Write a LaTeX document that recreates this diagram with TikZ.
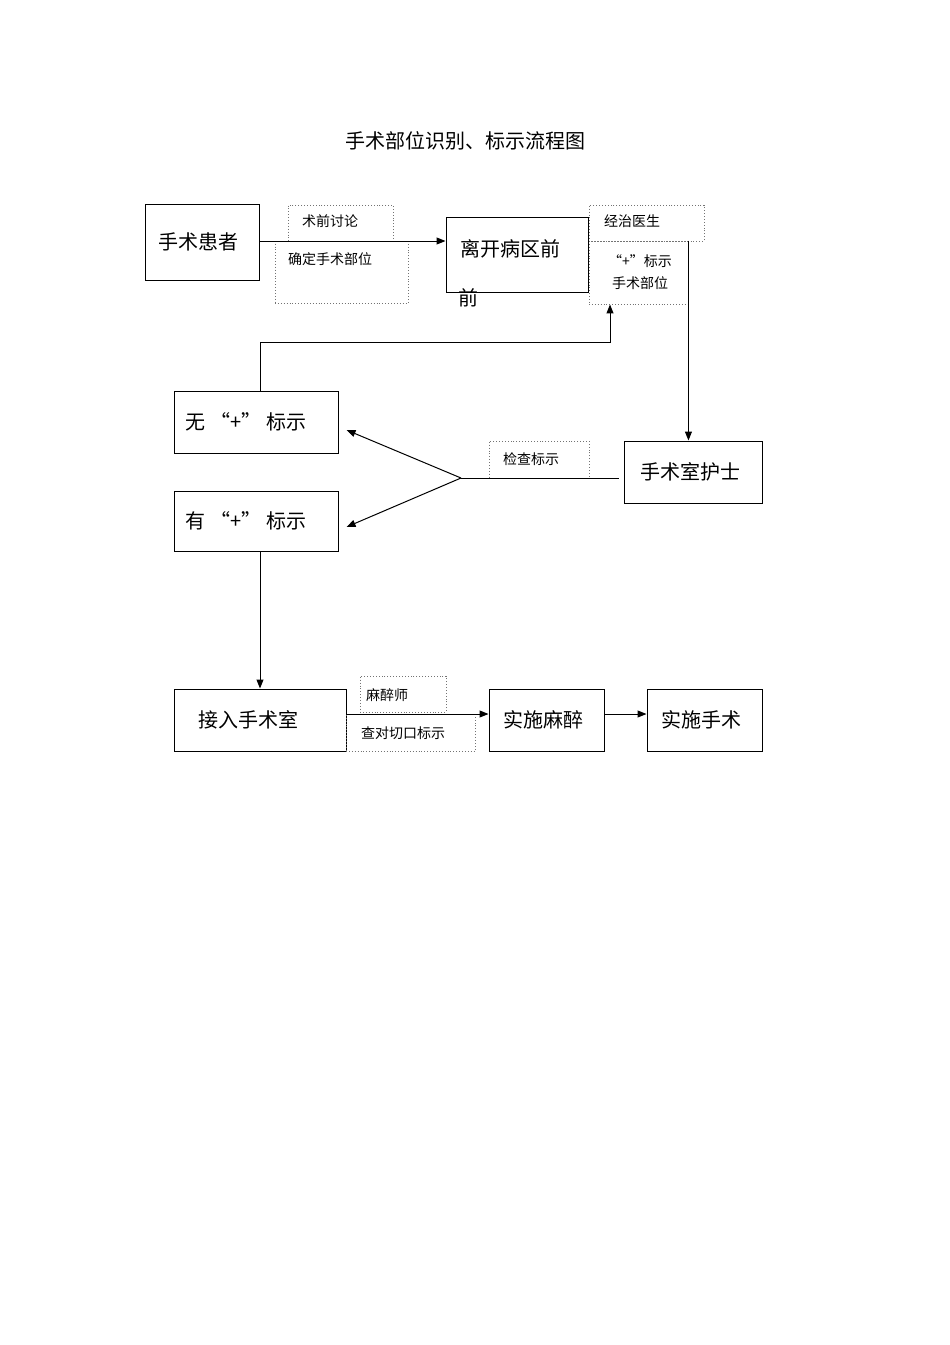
\documentclass[tikz,border=0pt]{standalone}
\usepackage{fontspec}
\setmainfont{Noto Sans CJK SC}
\usetikzlibrary{arrows.meta}
\newcommand{\padr}[1]{\hspace*{#1pt}}

\begin{document}
\begin{tikzpicture}[>={Triangle[length=9pt,width=7pt]}, x=1pt, y=-1pt,
    box/.style={draw, line width=1pt, minimum width=#1, inner sep=0pt, font=\fontsize{20}{24}\selectfont},
    note/.style={draw=black!55, dotted, line width=0.9pt, inner sep=0pt},
    notetext/.style={inner sep=0pt, font=\fontsize{14}{17}\selectfont},
    flow/.style={->, line width=1pt}]
  \useasboundingbox (0,0) rectangle (950,1345);
  \node[inner sep=0pt, font=\fontsize{20}{24}\selectfont] (title) at (465,141) {手术部位识别、标示流程图};
  % ---------------------------------------------------------------- ward
  \node[box=114pt, minimum height=76pt] (patient) at (202,242) {手术患者\padr{8}};
  \node[note, minimum width=105pt, minimum height=36pt] (talk) at (340.5,223) {};
  \node[note, minimum width=133pt, minimum height=62pt] (site) at (341.5,272) {};
  \node[notetext] (talktxt) at (330,221) {术前讨论};
  \node[notetext] (sitetxt) at (330,259) {确定手术部位};
  \node[box=142pt, minimum height=75pt] (leave) at (517,254.5) {};
  \node[inner sep=0pt, font=\fontsize{20}{24}\selectfont] (leavetxt) at (510,249) {离开病区前};
  \node[inner sep=0pt, font=\fontsize{20}{24}\selectfont] (leavemore) at (468,298) {前};
  \node[note, minimum width=115pt, minimum height=36pt] (doctor) at (646.5,223) {};
  \node[note, minimum width=99pt, minimum height=63pt] (mark) at (638.5,272.5) {};
  \node[notetext] (doctortxt) at (632,221) {经治医生};
  \node[notetext, align=center] (marktxt) at (640,272) {“+”标示\\[5pt]手术部位};
  \draw[flow] (patient.east |- 0,241) -- (leave.west |- 0,241);
  % ---------------------------------------------------------------- check in theatre
  \node[box=138pt, minimum height=62pt] (nurse) at (693,472) {手术室护士\padr{6}};
  \node[note, minimum width=100pt, minimum height=37pt] (check) at (539,459.5) {};
  \node[notetext] (checktxt) at (531,459) {检查标示};
  \node[box=164pt, minimum height=62pt] (none) at (256,422) {无 “+” 标示\padr{20}};
  \node[box=164pt, minimum height=60pt] (has) at (256,521) {有 “+” 标示\padr{20}};
  \coordinate (fork) at (461,478);
  \draw[flow] (mark.north east) -- (mark.north east |- nurse.north);
  \draw[line width=1pt] ([xshift=-5pt]nurse.west |- fork) -- (fork);
  \draw[flow] (fork) -- ([xshift=8pt,yshift=-8pt]none.east);
  \draw[flow] (fork) -- ([xshift=8pt,yshift=-6pt]has.east);
  \draw[flow] ([xshift=4pt]none.north) -- ++(0,-48) -| ([xshift=-28.5pt]mark.south);
  % ---------------------------------------------------------------- operation
  \node[box=172pt, minimum height=62pt] (enter) at (260,720) {接入手术室\padr{24}};
  \node[note, minimum width=86pt, minimum height=36pt] (anesthetist) at (403,694) {};
  \node[note, minimum width=129pt, minimum height=37pt] (incision) at (410.5,732.5) {};
  \node[notetext] (anesthetisttxt) at (387,695) {麻醉师};
  \node[notetext] (incisiontxt) at (403,733) {查对切口标示};
  \node[box=115pt, minimum height=62pt] (anes) at (546.5,720) {实施麻醉\padr{6}};
  \node[box=115pt, minimum height=62pt] (surgery) at (704.5,720) {实施手术\padr{6}};
  \draw[flow] ([xshift=4pt]has.south) -- (enter.north);
  \draw[flow] ([yshift=6pt]enter.east) -- ([yshift=6pt]anes.west);
  \draw[flow] ([yshift=6pt]anes.east) -- ([yshift=6pt]surgery.west);
\end{tikzpicture}
\end{document}
